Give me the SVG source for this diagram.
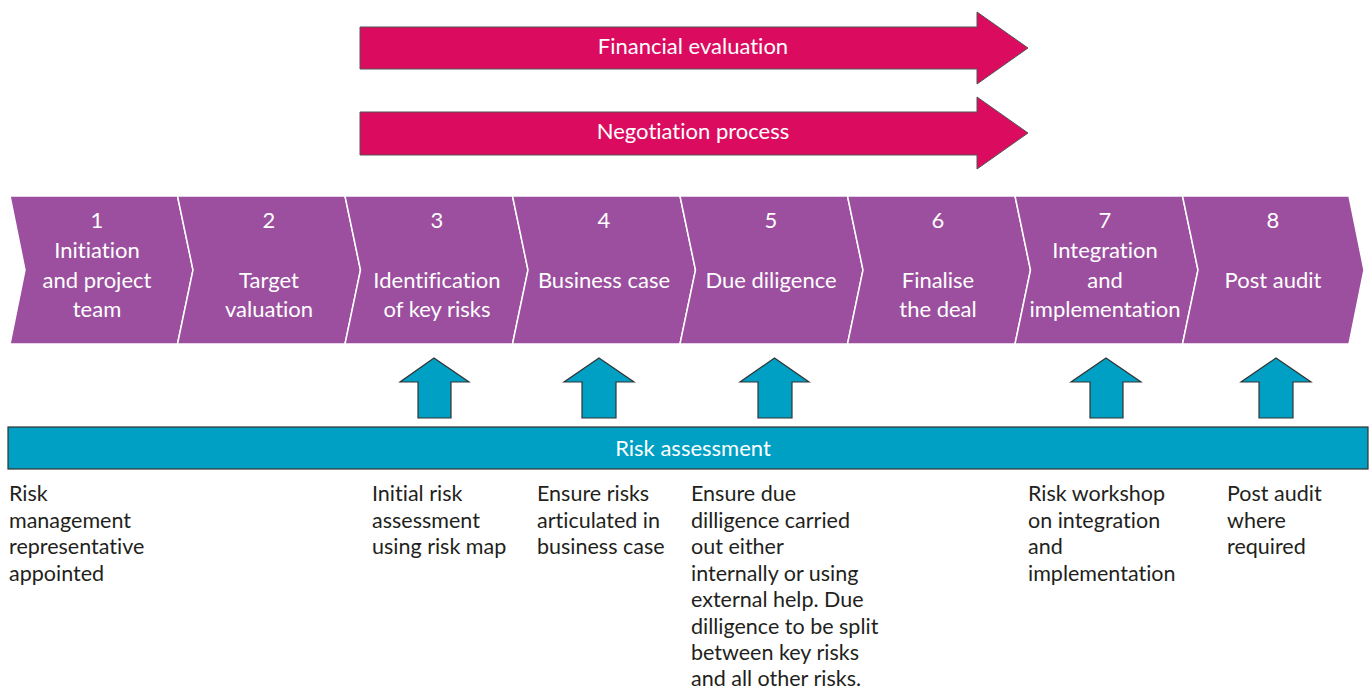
<svg xmlns="http://www.w3.org/2000/svg" width="1371" height="691" viewBox="0 0 1371 691">
<style>
.chev{fill:#9b4f9e;stroke:#ffffff;stroke-width:1.5}
.pink{fill:#db0c5f;stroke:#555;stroke-width:1}
.blue{fill:#00a0c4;stroke:#333;stroke-width:1.2}
text{font-variant-ligatures:none}
.wt{font-family:Lato,"Noto Sans",sans-serif;font-size:22px;fill:#ffffff;text-anchor:middle}
.bt{font-family:Lato,"Noto Sans",sans-serif;font-size:21.5px;fill:#231f20}
</style>
<rect width="1371" height="691" fill="#ffffff"/>
<g id="financial-evaluation">
<polygon class="pink" points="360,27 977,27 977,12 1028,48 977,84 977,69 360,69"/>
<text class="wt" x="693" y="54">Financial evaluation</text>
</g>
<g id="negotiation-process">
<polygon class="pink" points="360,112 977,112 977,97 1028,133 977,169 977,155 360,155"/>
<text class="wt" x="693" y="139">Negotiation process</text>
</g>
<g id="stage1">
<polygon class="chev" points="10,196 177.5,196 193,270 177.5,344 10,344 25,270"/>
<text class="wt" x="97" y="228">1</text>
<text class="wt" x="97" y="258">Initiation</text>
<text class="wt" x="97" y="288">and project</text>
<text class="wt" x="97" y="317">team</text>
</g>
<g id="stage2">
<polygon class="chev" points="177.5,196 345,196 360.5,270 345,344 177.5,344 193,270"/>
<text class="wt" x="269" y="228">2</text>
<text class="wt" x="269" y="288">Target</text>
<text class="wt" x="269" y="317">valuation</text>
</g>
<g id="stage3">
<polygon class="chev" points="345,196 512.5,196 528,270 512.5,344 345,344 360.5,270"/>
<text class="wt" x="437" y="228">3</text>
<text class="wt" x="437" y="288">Identification</text>
<text class="wt" x="437" y="317">of key risks</text>
</g>
<g id="stage4">
<polygon class="chev" points="512.5,196 680,196 695.5,270 680,344 512.5,344 528,270"/>
<text class="wt" x="604" y="228">4</text>
<text class="wt" x="604" y="288">Business case</text>
</g>
<g id="stage5">
<polygon class="chev" points="680,196 847.5,196 863,270 847.5,344 680,344 695.5,270"/>
<text class="wt" x="771" y="228">5</text>
<text class="wt" x="771" y="288">Due diligence</text>
</g>
<g id="stage6">
<polygon class="chev" points="847.5,196 1015,196 1030.5,270 1015,344 847.5,344 863,270"/>
<text class="wt" x="938" y="228">6</text>
<text class="wt" x="938" y="288">Finalise</text>
<text class="wt" x="938" y="317">the deal</text>
</g>
<g id="stage7">
<polygon class="chev" points="1015,196 1182.5,196 1198,270 1182.5,344 1015,344 1030.5,270"/>
<text class="wt" x="1105" y="228">7</text>
<text class="wt" x="1105" y="258">Integration</text>
<text class="wt" x="1105" y="288">and</text>
<text class="wt" x="1105" y="317">implementation</text>
</g>
<g id="stage8">
<polygon class="chev" points="1182.5,196 1349,196 1364,270 1349,344 1182.5,344 1198,270"/>
<text class="wt" x="1273" y="228">8</text>
<text class="wt" x="1273" y="288">Post audit</text>
</g>
<g id="connectors">
<polygon class="blue" points="434,358 469,382 451,382 451,418 418,418 418,382 400,382"/>
<polygon class="blue" points="599,358 634,382 616,382 616,418 582,418 582,382 564,382"/>
<polygon class="blue" points="774.5,358 809,382 792,382 792,418 758,418 758,382 740,382"/>
<polygon class="blue" points="1106,358 1141,382 1123,382 1123,418 1090,418 1090,382 1071,382"/>
<polygon class="blue" points="1276,358 1311,382 1293,382 1293,418 1259,418 1259,382 1241,382"/>
</g>
<g id="risk-assessment">
<rect class="blue" x="8" y="427" width="1360" height="42"/>
<text class="wt" x="693" y="456">Risk assessment</text>
</g>
<g id="note1">
<text class="bt" x="9" y="501">Risk</text>
<text class="bt" x="9" y="527.5">management</text>
<text class="bt" x="9" y="554">representative</text>
<text class="bt" x="9" y="580.5">appointed</text>
</g>
<g id="note3">
<text class="bt" x="372" y="501">Initial risk</text>
<text class="bt" x="372" y="527.5">assessment</text>
<text class="bt" x="372" y="554">using risk map</text>
</g>
<g id="note4">
<text class="bt" x="537" y="501">Ensure risks</text>
<text class="bt" x="537" y="527.5">articulated in</text>
<text class="bt" x="537" y="554">business case</text>
</g>
<g id="note5">
<text class="bt" x="691" y="501">Ensure due</text>
<text class="bt" x="691" y="527.5">dilligence carried</text>
<text class="bt" x="691" y="554">out either</text>
<text class="bt" x="691" y="580.5">internally or using</text>
<text class="bt" x="691" y="607">external help. Due</text>
<text class="bt" x="691" y="633.5">dilligence to be split</text>
<text class="bt" x="691" y="660">between key risks</text>
<text class="bt" x="691" y="686">and all other risks.</text>
</g>
<g id="note7">
<text class="bt" x="1028" y="501">Risk workshop</text>
<text class="bt" x="1028" y="527.5">on integration</text>
<text class="bt" x="1028" y="554">and</text>
<text class="bt" x="1028" y="580.5">implementation</text>
</g>
<g id="note8">
<text class="bt" x="1227" y="501">Post audit</text>
<text class="bt" x="1227" y="527.5">where</text>
<text class="bt" x="1227" y="554">required</text>
</g>
</svg>
